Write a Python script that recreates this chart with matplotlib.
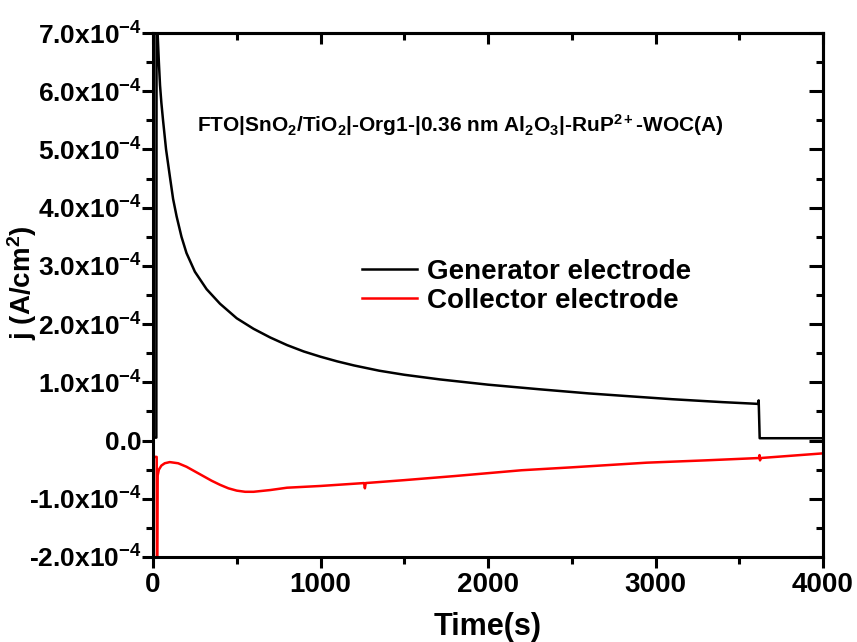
import matplotlib
matplotlib.use("Agg")
import matplotlib.pyplot as plt
from matplotlib.ticker import MultipleLocator, FuncFormatter
import numpy as np

plt.rcParams['font.family'] = ['Liberation Sans', 'DejaVu Sans']
plt.rcParams['font.weight'] = 'bold'
plt.rcParams['mathtext.fontset'] = 'custom'
plt.rcParams['mathtext.rm'] = 'Liberation Sans:bold'
plt.rcParams['mathtext.bf'] = 'Liberation Sans:bold'
plt.rcParams['mathtext.it'] = 'Liberation Sans:bold'
plt.rcParams['mathtext.default'] = 'bf'
plt.rcParams['axes.unicode_minus'] = False

# Generator electrode current density (units of 1e-4 A/cm^2)
gen_t = [0, 1, 3, 20, 22, 26, 35, 42, 50, 60, 78, 100, 120, 141, 170, 200, 250,
         320, 400, 500, 600, 700, 800, 900, 1000, 1100, 1200, 1350, 1500, 1713,
         2000, 2310, 2600, 2848, 3100, 3400, 3612, 3616, 3622, 3700, 4000]
gen_j = [0.05, 12.0, 0.05, 0.05, 12.0, 7.1, 6.5, 6.1, 5.8, 5.5, 5.0, 4.55, 4.15,
         3.85, 3.5, 3.22, 2.9, 2.6, 2.35, 2.1, 1.92, 1.77, 1.64, 1.53, 1.44,
         1.36, 1.29, 1.2, 1.13, 1.05, 0.96, 0.88, 0.81, 0.76, 0.71, 0.66, 0.63,
         0.69, 0.04, 0.04, 0.04]

# Collector electrode current density (units of 1e-4 A/cm^2)
col_t = [0, 20, 22, 24, 28, 35, 50, 70, 100, 150, 200, 250, 300, 350, 400, 450,
         500, 550, 600, 700, 800, 1000, 1260, 1265, 1270, 1500, 1800, 2000, 2200,
         2500, 2947, 3300, 3618, 3621, 3624, 3628, 4000]
col_j = [-0.28, -0.28, -0.28, -2.5, -0.6, -0.5, -0.43, -0.39, -0.37, -0.39,
         -0.45, -0.53, -0.61, -0.69, -0.76, -0.82, -0.86, -0.88, -0.88, -0.85,
         -0.81, -0.78, -0.73, -0.82, -0.73, -0.68, -0.61, -0.56, -0.51, -0.46,
         -0.38, -0.34, -0.30, -0.25, -0.34, -0.30, -0.22]

scale = 1e-4
W, H = 857, 642
fig = plt.figure(figsize=(W / 100, H / 100), dpi=100)
ax = fig.add_axes([153 / W, 1 - 557 / H, (823 - 153) / W, (557 - 33) / H])

ax.plot(gen_t, np.array(gen_j) * scale, color='black', lw=1.8,
        label='Generator electrode')
ax.plot(col_t, np.array(col_j) * scale, color='#ff0000', lw=1.8,
        label='Collector electrode')

ax.set_xlim(0, 4000)
ax.set_ylim(-2e-4, 7e-4)

ax.xaxis.set_major_locator(MultipleLocator(1000))
ax.xaxis.set_minor_locator(MultipleLocator(500))
ax.yaxis.set_major_locator(MultipleLocator(1e-4))
ax.yaxis.set_minor_locator(MultipleLocator(0.5e-4))


def yfmt(v, pos):
    m = round(v / 1e-4, 1)
    if abs(m) < 1e-9:
        return '0.0'
    return '%.1fx10$^{-4}$' % m

ax.yaxis.set_major_formatter(FuncFormatter(yfmt))
ax.xaxis.set_major_formatter(FuncFormatter(lambda v, p: '%d' % v))

for s in ax.spines.values():
    s.set_linewidth(2.2)

ax.tick_params(axis='both', which='major', width=2.2, length=8,
               direction='out', top=False, right=False)
ax.tick_params(axis='both', which='minor', width=2.2, length=5,
               direction='out', top=False, right=False)
ax.tick_params(axis='x', which='major', labelsize=20, pad=3)
ax.tick_params(axis='y', which='major', labelsize=19, pad=0)
# inward ticks on top and right
ax2 = ax.secondary_xaxis('top')
ax2.xaxis.set_major_locator(MultipleLocator(1000))
ax2.xaxis.set_minor_locator(MultipleLocator(500))
ax2.tick_params(which='major', direction='in', length=8, width=2.2, labeltop=False)
ax2.tick_params(which='minor', direction='in', length=5, width=2.2)
ax2.spines['top'].set_linewidth(2.2)
ax3 = ax.secondary_yaxis('right')
ax3.yaxis.set_major_locator(MultipleLocator(1e-4))
ax3.yaxis.set_minor_locator(MultipleLocator(0.5e-4))
ax3.tick_params(which='major', direction='in', length=10, width=2.2, labelright=False)
ax3.tick_params(which='minor', direction='in', length=5, width=2.2)
ax3.spines['right'].set_linewidth(2.2)

for lab in ax.get_xticklabels() + ax.get_yticklabels():
    lab.set_fontweight('bold')

ax.set_xlabel('Time(s)', fontsize=22, fontweight='bold', labelpad=0)
ax.xaxis.set_label_coords(0.5, -0.105)
ax.set_ylabel('j (A/cm$^{2}$)', fontsize=20, fontweight='bold')
ax.yaxis.set_label_coords(-0.170, 0.523)

ax.text(0.458, 0.825,
        'FTO|SnO$_{2}$/TiO$_{2}$|-Org1-|0.36 nm Al$_{2}$O$_{3}$|-RuP$^{2+}$-WOC(A)',
        transform=ax.transAxes, ha='center', va='center', fontsize=15,
        fontweight='bold')

leg = ax.legend(loc='upper left', bbox_to_anchor=(0.295, 0.59), frameon=False,
                fontsize=20, handlelength=2.0, handletextpad=0.36,
                labelspacing=0.1, borderaxespad=0)
for t in leg.get_texts():
    t.set_fontweight('bold')

fig.savefig('out.png', dpi=100)
